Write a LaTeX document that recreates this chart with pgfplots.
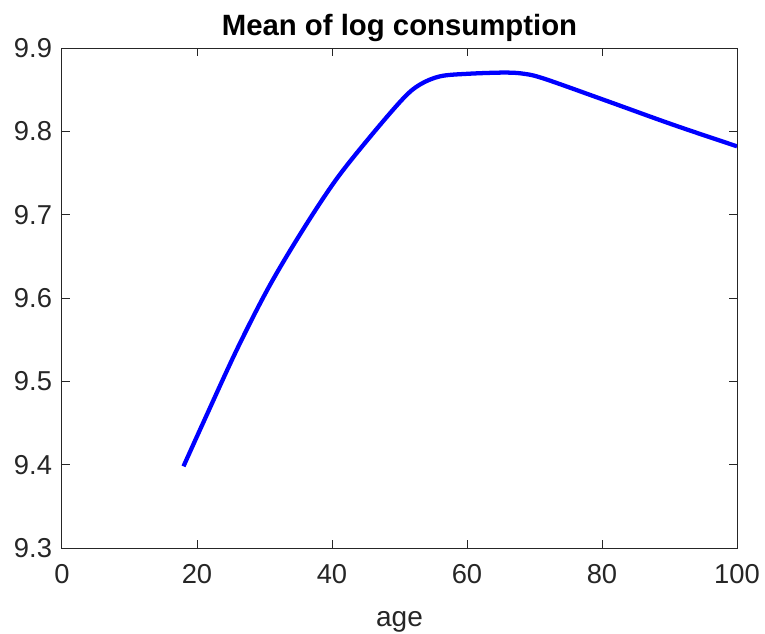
\documentclass[border=0pt]{standalone}
\usepackage{fontspec}
\setmainfont{Liberation Sans}
\usepackage{pgfplots}
\pgfplotsset{compat=1.18}
\definecolor{axgray}{HTML}{262626}

\begin{document}
\begin{tikzpicture}
  \begin{axis}[
    name=ax,
    scale only axis,
    width=506.25pt,
    height=375pt,
    xmin=0, xmax=100,
    ymin=9.3, ymax=9.9,
    xtick={0,20,40,60,80,100},
    ytick={9.3,9.4,9.5,9.6,9.7,9.8,9.9},
    yticklabel style={/pgf/number format/fixed,/pgf/number format/precision=1,
      /pgf/number format/fixed zerofill},
    /pgf/number format/assume math mode=true,
    tick align=inside,
    major tick length=6pt,
    axis line style={axgray, line width=0.75pt},
    every tick/.style={axgray, line width=0.75pt},
    tick label style={font=\fontsize{20.5}{24}\selectfont, text=axgray},
    xticklabel style={yshift=-9pt},
    yticklabel style={xshift=-4pt},
    xlabel={age},
    xlabel style={font=\fontsize{21}{25}\selectfont, text=axgray, yshift=-14pt},
    title={\textbf{Mean of log consumption}},
    title style={font=\fontsize{22}{26}\selectfont, yshift=-5pt},
  ]
    \addplot[blue, line width=3.2pt, smooth, tension=0.55] coordinates {
      (18,9.398) (20.9,9.450) (25.9,9.538) (30.7,9.614) (35.7,9.682)
      (40.6,9.742) (45.6,9.793) (50.5,9.839) (53,9.856) (56,9.866)
      (60,9.869) (65.5,9.8705) (68.5,9.869) (71.5,9.863)
      (80.2,9.838) (90.5,9.808) (100,9.782)
    };
  \end{axis}
  \pgfresetboundingbox
  \path ([xshift=-46.5pt,yshift=-63.75pt]ax.south west) rectangle ([xshift=21pt,yshift=36pt]ax.north east);
\end{tikzpicture}
\end{document}
